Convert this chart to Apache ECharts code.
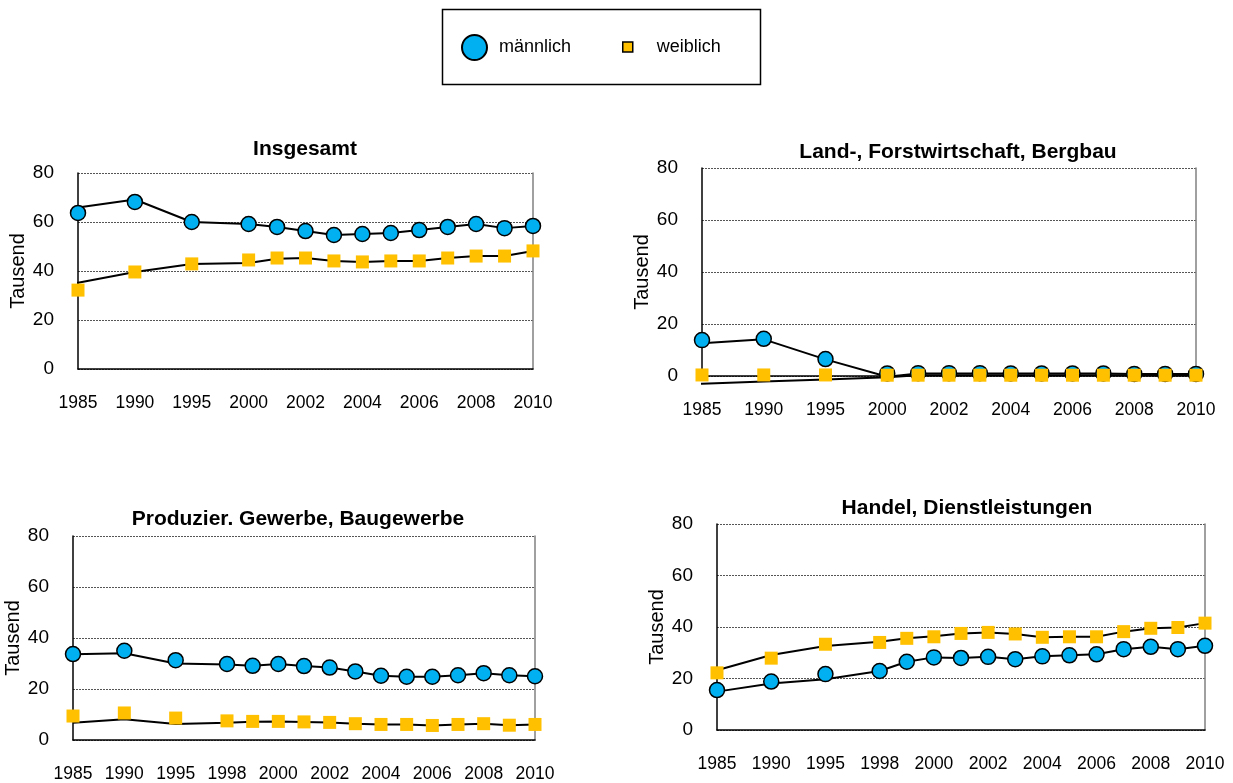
<!DOCTYPE html>
<html>
<head>
<meta charset="utf-8">
<script src="https://cdn.jsdelivr.net/npm/echarts@6/dist/echarts.min.js"></script>
<style>
  html, body { margin: 0; padding: 0; background: #fff; }
  #chart { width: 1233px; height: 783px; }
</style>
</head>
<body>
<div id="chart"></div>
<script>
// x-axis slots (blank slots keep the gaps between the early years)
const catsTop = ['1985', '', '1990', '', '1995', '', '2000', '2001', '2002', '2003', '2004', '2005', '2006', '2007', '2008', '2009', '2010'];
const catsBottom = ['1985', '', '1990', '', '1995', '', '1998', '1999', '2000', '2001', '2002', '2003', '2004', '2005', '2006', '2007', '2008', '2009', '2010'];
const yearsTop = [1985, 1990, 1995, 2000, 2001, 2002, 2003, 2004, 2005, 2006, 2007, 2008, 2009, 2010];
const yearsBottom = [1985, 1990, 1995, 1998, 1999, 2000, 2001, 2002, 2003, 2004, 2005, 2006, 2007, 2008, 2009, 2010];

// Insgesamt
const insM = [63.7, 68.2, 60.0, 59.2, 58.0, 56.3, 54.7, 55.1, 55.5, 56.7, 58.0, 59.2, 57.5, 58.4];
const insW = [32.2, 39.6, 42.9, 44.5, 45.3, 45.3, 44.1, 43.7, 44.1, 44.1, 45.3, 46.1, 46.1, 48.2];
const insLineM = [65.9, 69.2, 60.0, 59.2, 58.0, 56.3, 54.7, 55.1, 55.5, 56.7, 58.0, 59.2, 57.5, 58.4];
const insLineW = [35.2, 39.6, 42.9, 43.3, 45.0, 45.3, 44.1, 43.7, 44.1, 44.1, 45.3, 46.1, 46.1, 48.2];
const insLeadM = [-0.35, 65.3];
const insLeadW = [-0.4, 34.3];

// Land-, Forstwirtschaft, Bergbau
const landM = [13.8, 14.3, 6.5, 1.0, 1.1, 1.1, 1.1, 1.0, 1.0, 1.0, 1.0, 0.8, 0.8, 0.8];
const landW = [0.4, 0.4, 0.4, 0.3, 0.3, 0.3, 0.3, 0.3, 0.3, 0.3, 0.3, 0.3, 0.3, 0.3];
const landLineM = [12.6, 14.1, 6.4, -0.3, 1.0, 1.0, 1.0, 1.0, 1.0, 1.0, 1.0, 0.8, 0.8, 0.8];
const landLineW = [-3.0, -2.15, -1.3, -0.5, 0.3, 0.3, 0.3, 0.3, 0.3, 0.3, 0.3, 0.3, 0.3, 0.3];
const landLeadM = [-0.44, 12.3];
const landLeadW = [-0.55, -3.2];

// Produzier. Gewerbe, Baugewerbe
const prodM = [33.7, 35.0, 31.3, 29.8, 29.1, 29.8, 29.0, 28.4, 26.9, 25.2, 24.8, 24.8, 25.4, 26.2, 25.4, 25.0];
const prodW = [9.4, 10.6, 8.6, 7.5, 7.3, 7.3, 7.1, 6.9, 6.4, 6.1, 6.1, 5.7, 6.1, 6.4, 5.8, 6.1];
const prodLineM = [33.6, 34.0, 30.0, 29.6, 29.1, 29.8, 29.0, 28.4, 26.9, 25.2, 24.8, 24.8, 25.4, 26.2, 25.4, 25.0];
const prodLineW = [6.8, 8.1, 6.3, 6.8, 7.2, 7.3, 7.1, 6.9, 6.4, 6.1, 6.1, 5.7, 6.1, 6.4, 5.8, 6.1];

// Handel, Dienstleistungen
const handM = [15.5, 18.8, 21.7, 22.9, 26.5, 28.2, 28.0, 28.4, 27.5, 28.6, 29.0, 29.4, 31.4, 32.3, 31.4, 32.7];
const handW = [22.2, 27.9, 33.3, 34.0, 35.6, 36.2, 37.5, 37.9, 37.3, 36.0, 36.2, 36.2, 38.2, 39.5, 39.8, 41.5];
const handLineM = [14.9, 18.1, 19.7, 22.9, 26.5, 28.2, 28.0, 28.4, 27.5, 28.6, 29.0, 29.4, 31.4, 32.3, 31.4, 32.7];
const handLineW = [23.2, 29.1, 32.6, 34.3, 35.6, 36.4, 37.5, 37.9, 37.3, 36.0, 36.2, 36.2, 38.2, 39.5, 39.8, 41.5];
const handLeadW = [-0.6, 21.4];

const yTicks = { min: 0, max: 80, interval: 20 };

const FONT = 'Liberation Sans, Arial, sans-serif';
const BLUE = '#00b0f0';
const YELLOW = '#ffc000';

function pts(years, cats, vals) {
  return years.map((y, i) => [cats.indexOf(String(y)), vals[i]]);
}

const panels = [
  { title: 'Insgesamt', cats: catsTop, years: yearsTop, m: insM, w: insW, lm: insLineM, lw: insLineW, leadM: insLeadM, leadW: insLeadW,
    grid: { left: 78, top: 173, width: 455, height: 196 }, titleX: 305, titleTop: 139, nameGap: 50 },
  { title: 'Land-, Forstwirtschaft, Bergbau', cats: catsTop, years: yearsTop, m: landM, w: landW, lm: landLineM, lw: landLineW, leadM: landLeadM, leadW: landLeadW,
    grid: { left: 702, top: 168, width: 494, height: 208 }, titleX: 958, titleTop: 142, nameGap: 49 },
  { title: 'Produzier. Gewerbe, Baugewerbe', cats: catsBottom, years: yearsBottom, m: prodM, w: prodW, lm: prodLineM, lw: prodLineW, leadM: null, leadW: null,
    grid: { left: 73, top: 536, width: 462, height: 204 }, titleX: 298, titleTop: 509, nameGap: 48 },
  { title: 'Handel, Dienstleistungen', cats: catsBottom, years: yearsBottom, m: handM, w: handW, lm: handLineM, lw: handLineW, leadM: null, leadW: handLeadW,
    grid: { left: 717, top: 524, width: 488, height: 206 }, titleX: 967, titleTop: 498, nameGap: 44 }
];

const option = {
  animation: false,
  backgroundColor: '#fff',
  textStyle: { fontFamily: FONT, color: '#000' },
  title: panels.map(p => ({
    text: p.title, left: p.titleX, top: p.titleTop, textAlign: 'center', padding: 0,
    textStyle: { fontFamily: FONT, fontSize: 21, fontWeight: 'bold', color: '#000' }
  })),
  legend: [
    { data: [{ name: 'männlich', icon: 'circle' }], left: 461, top: 34, padding: 0, itemWidth: 25, itemHeight: 25,
      selectedMode: false, textStyle: { fontFamily: FONT, fontSize: 18, color: '#000', padding: [0, 0, 0, 7] } },
    { data: [{ name: 'weiblich', icon: 'rect', itemStyle: { borderColor: '#000', borderWidth: 1.5 } }], left: 622, top: 38, padding: 0,
      itemWidth: 10, itemHeight: 10, selectedMode: false, textStyle: { fontFamily: FONT, fontSize: 18, color: '#000', padding: [0, 0, 0, 19] } }
  ],
  graphic: [{
    type: 'rect', left: 440, top: 7, shape: { width: 318, height: 75 },
    style: { fill: 'none', stroke: '#000', lineWidth: 1.5 }
  }],
  grid: panels.map(p => Object.assign({ containLabel: false }, p.grid)),
  xAxis: panels.map((p, i) => ({
    type: 'value', gridIndex: i, min: 0, max: p.cats.length - 1, interval: 2,
    axisLine: { show: true, onZero: false, lineStyle: { color: '#000', width: 1.5 } },
    axisTick: { show: false }, splitLine: { show: false },
    axisLabel: { margin: 25, fontSize: 17.5, fontFamily: FONT, color: '#000',
      formatter: v => p.cats[Math.round(v)] || '' }
  })),
  yAxis: panels.flatMap((p, i) => [
    { type: 'value', gridIndex: i, min: yTicks.min, max: yTicks.max, interval: yTicks.interval,
      name: 'Tausend', nameLocation: 'middle', nameGap: p.nameGap, nameRotate: 90,
      nameTextStyle: { fontFamily: FONT, fontSize: 20, color: '#000' },
      axisLine: { show: true, lineStyle: { color: '#000', width: 1.5 } },
      axisTick: { show: false },
      axisLabel: { margin: 24, fontSize: 19, fontFamily: FONT, color: '#000' },
      splitLine: { show: true, lineStyle: { color: '#555', width: 1, type: [2, 1] } } },
    { type: 'value', gridIndex: i, position: 'right', min: yTicks.min, max: yTicks.max, interval: yTicks.interval,
      axisLine: { show: true, lineStyle: { color: '#808080', width: 1.5 } },
      axisTick: { show: false }, axisLabel: { show: false }, splitLine: { show: false } }
  ]),
  series: panels.flatMap((p, i) => {
    const lineM = pts(p.years, p.cats, p.lm);
    const lineW = pts(p.years, p.cats, p.lw);
    if (p.leadM) lineM.unshift(p.leadM);
    if (p.leadW) lineW.unshift(p.leadW);
    const lineStyle = { color: '#000', width: 2 };
    return [
      { type: 'line', xAxisIndex: i, yAxisIndex: 2 * i, data: lineM, symbol: 'none', clip: false, z: 2,
        lineStyle, silent: true },
      { type: 'line', xAxisIndex: i, yAxisIndex: 2 * i, data: lineW, symbol: 'none', clip: false, z: 2,
        lineStyle, silent: true },
      { name: 'männlich', type: 'scatter', xAxisIndex: i, yAxisIndex: 2 * i, data: pts(p.years, p.cats, p.m),
        symbol: 'circle', symbolSize: 15, z: 3,
        itemStyle: { color: BLUE, borderColor: '#000', borderWidth: 1.5, opacity: 1 } },
      { name: 'weiblich', type: 'scatter', xAxisIndex: i, yAxisIndex: 2 * i, data: pts(p.years, p.cats, p.w),
        symbol: 'rect', symbolSize: 13, z: 4,
        itemStyle: { color: YELLOW, opacity: 1 } }
    ];
  })
};

const myChart = echarts.init(document.getElementById('chart'));
myChart.setOption(option);
window.onresize = myChart.resize;
</script>
</body>
</html>
